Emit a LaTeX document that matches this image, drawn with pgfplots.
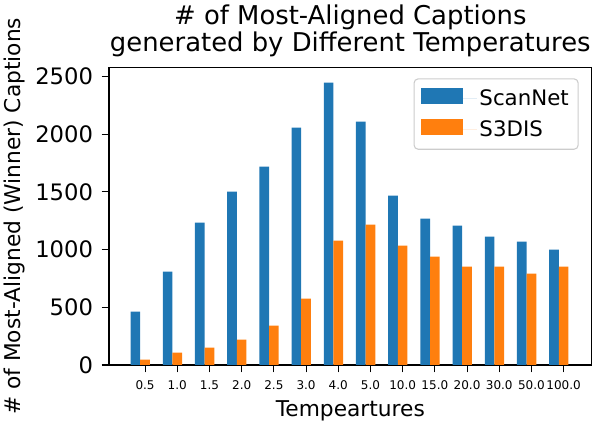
\documentclass[border=0pt]{standalone}
\usepackage{pgfplots}
\pgfplotsset{compat=1.18}
\usepackage{fontspec}
\setmainfont{DejaVu Sans}
\definecolor{mplblue}{HTML}{1F77B4}
\definecolor{mplorange}{HTML}{FF7F0E}
\begin{document}
\begin{tikzpicture}
\begin{axis}[
    at={(0,0)}, anchor=south west,
    scale only axis,
    width=362pt,
    height=223pt,
    xmin=-1.12, xmax=13.87,
    ymin=0, ymax=2575,
    axis line style={black, line width=0.8pt},
    xtick={0,1,...,13},
    xticklabels={0.5,1.0,1.5,2.0,2.5,3.0,4.0,5.0,10.0,15.0,20.0,30.0,50.0,100.0},
    ytick={0,500,1000,1500,2000,2500},
    tick align=outside,
    xtick pos=bottom, ytick pos=left,
    major tick length=5.5pt,
    every tick/.style={black, line width=0.8pt},
    x tick label style={font=\fontsize{9}{10}\selectfont, yshift=-3pt},
    y tick label style={font=\fontsize{17}{19}\selectfont, xshift=-3pt},
    /pgf/number format/assume math mode=true,
    /pgf/number format/1000 sep={},
    xlabel={Tempeartures},
    ylabel={\# of Most-Aligned (Winner) Captions},
    label style={font=\fontsize{16.3}{18}\selectfont},
    xlabel style={yshift=-1pt},
    ylabel style={yshift=1pt},
    title={\# of Most-Aligned Captions\\generated by Different Temperatures},
    title style={font=\fontsize{19.4}{18}\selectfont, align=center, at={(0.5,1)},
        anchor=south, inner sep=0pt, yshift=2pt},
    ybar=0pt,
    bar width=0.3,
    legend style={at={(0.973,0.964)}, anchor=north east, font=\fontsize{16}{18}\selectfont,
        draw=black!20, line width=0.8pt, rounded corners=3pt, row sep=6pt,
        inner xsep=5pt, inner ysep=6pt},
    legend image code/.code={\fill[#1, sharp corners] (0pt,-4pt) rectangle (32pt,8pt); \path (0pt,0pt) -- (42pt,0pt);},
    legend cell align=left,
]
\addplot[fill=mplblue, draw=none, bar shift=-0.3] coordinates {
    (0,462) (1,808) (2,1233) (3,1501) (4,1718) (5,2056) (6,2445)
    (7,2108) (8,1467) (9,1267) (10,1207) (11,1111) (12,1068) (13,999)
};
\addplot[fill=mplorange, draw=none, bar shift=0] coordinates {
    (0,46) (1,107) (2,150) (3,219) (4,340) (5,574) (6,1077)
    (7,1215) (8,1034) (9,938) (10,852) (11,852) (12,791) (13,852)
};
\legend{ScanNet, S3DIS}
\draw[black, line width=0.8pt] (rel axis cs:0,1) -- (rel axis cs:1,1) -- (rel axis cs:1,0);
\end{axis}
\pgfresetboundingbox
\useasboundingbox (-81.75pt,-43.5pt) rectangle (368.25pt,273.75pt);
\end{tikzpicture}
\end{document}
